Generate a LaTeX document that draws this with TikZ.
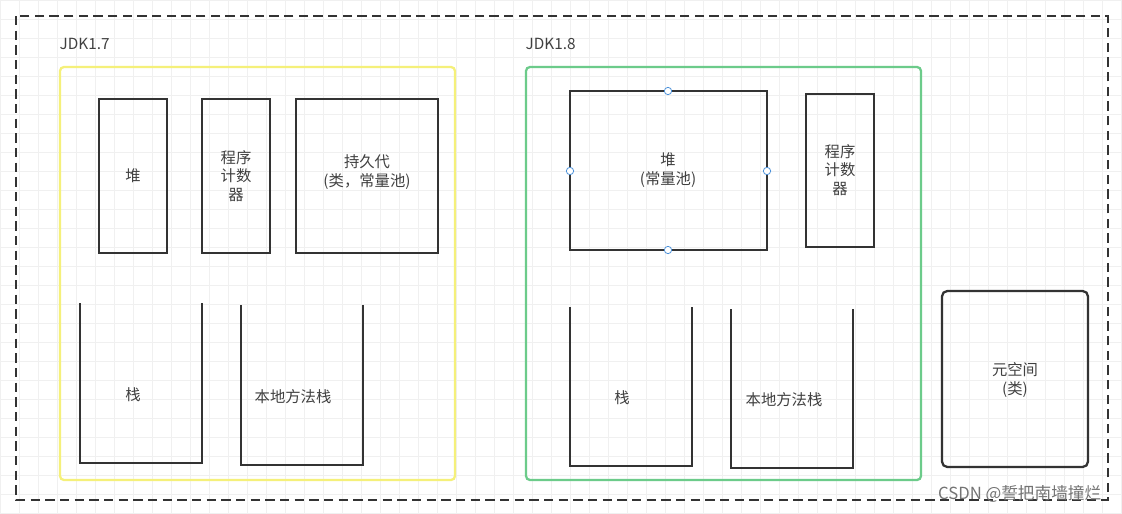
\documentclass[tikz,border=0pt]{standalone}
\usepackage{fontspec}
\setmainfont{Noto Sans CJK SC}
\usetikzlibrary{positioning}
\definecolor{boxline}{HTML}{333333}
\definecolor{oldjdk}{HTML}{F5F07A}
\definecolor{newjdk}{HTML}{6CCB8A}
\definecolor{handle}{HTML}{4A90D9}
\tikzset{
  part/.style={draw=boxline, line width=1.7pt},
  label/.style={font=\fontsize{11.5pt}{14pt}\selectfont, text=black!75, align=center},
  handlept/.style={circle, draw=handle, line width=.6pt, fill=white, inner sep=0pt, minimum size=5.5pt}
}
\begin{document}
\begin{tikzpicture}[x=.75pt, y=-.75pt]
    \useasboundingbox (0,0) rectangle (1122,514);
    \fill[white] (0,0) rectangle (1122,514);
    \foreach \x in {0,19,...,1122}
    \draw[black!6] (\x,0) -- (\x,514);
    \foreach \y in {0,19,...,514}
    \draw[black!6] (0,\y) -- (1122,\y);

    % frame
    \draw[boxline, line width=1.9pt, dash pattern=on 7pt off 4pt] (16,16) rectangle (1108,500);
    \node[label, anchor=west] (jdk7) at (55,44) {JDK1.7};
    \node[label, anchor=west] (jdk8) at (521,44) {JDK1.8};
    \draw[oldjdk, line width=1.7pt, rounded corners=3pt] (60,67) rectangle (455,480);
    \draw[newjdk, line width=1.7pt, rounded corners=3pt] (526,67) rectangle (921,480);

    % JDK1.7
    \draw[part] (99,99) rectangle (167,253);
    \node[label] (heap7) at (133,176) {堆};
    \draw[part] (202,99) rectangle (270,253);
    \node[label] (pc7) at (236,176) {程序\\计数\\器};
    \draw[part] (296,99) rectangle (438,253);
    \node[label] (perm) at (367,172) {持久代\\(类，常量池)};
    \draw[part] (80,303) -- (80,463) -- (202,463) -- (202,303);
    \node[label] (stack7) at (133,395) {栈};
    \draw[part] (241,305) -- (241,465) -- (363,465) -- (363,305);
    \node[label] (native7) at (293,397) {本地方法栈};

    % JDK1.8
    \draw[part] (570,91) rectangle (767,250);
    \node[label] (heap8) at (668,170) {堆\\(常量池)};
    \foreach \p in {(668,91),(668,250),(570,171),(767,171)}
    \node[handlept] at \p {};
    \draw[part] (806,94) rectangle (874,247);
    \node[label] (pc8) at (840,170) {程序\\计数\\器};
    \draw[part] (570,307) -- (570,466) -- (692,466) -- (692,307);
    \node[label] (stack8) at (622,398) {栈};
    \draw[part] (731,309) -- (731,468) -- (853,468) -- (853,309);
    \node[label] (native8) at (784,400) {本地方法栈};
    \draw[part, rounded corners=4pt] (942,291) rectangle (1088,467);
    \node[label] (meta) at (1015,380) {元空间\\(类)};

    \node[font=\fontsize{12.5pt}{14pt}\selectfont, text=black!55, anchor=east] (mark) at (1106,494) {CSDN @誓把南墙撞烂};
\end{tikzpicture}
\end{document}
